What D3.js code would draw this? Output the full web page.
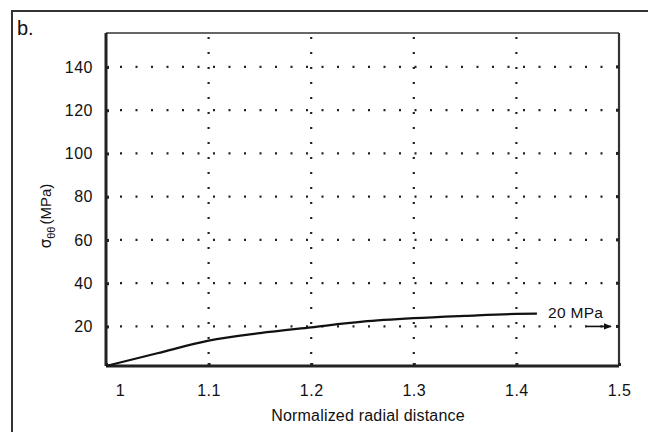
<!DOCTYPE html>
<html>
<head>
<meta charset="utf-8">
<script src="https://cdn.jsdelivr.net/npm/d3@7"></script>
<style>
  body { margin: 0; background: #fff; }
  svg { display: block; font-family: "Liberation Sans", Arial, sans-serif; }
  text { fill: #111; }
</style>
</head>
<body>
<svg id="chart"></svg>
<script>
// curve
var radialDistance = [1.0, 1.05, 1.1, 1.15, 1.2, 1.25, 1.3, 1.35, 1.4, 1.42];
var stressValues = [1.7, 7.6, 13.4, 16.9, 19.6, 22.2, 23.8, 24.9, 25.8, 25.9];
var xTicks = [1, 1.1, 1.2, 1.3, 1.4, 1.5];
var xTickLabels = ["1", "1.1", "1.2", "1.3", "1.4", "1.5"];
var yTicks = [20, 40, 60, 80, 100, 120, 140];
var arrowValue = 20;
var arrowLabel = "20 MPa";

var width = 648;
var height = 432;
// plot box edges (note: "top" is reserved on window)
var plotLeft = 106, plotRight = 619, plotTop = 33, plotBottom = 366;

var svg = d3.select("#chart").attr("width", width).attr("height", height);

var x = d3.scaleLinear().domain([1, 1.5]).range([plotLeft, plotRight]);
var y = d3.scaleLinear().domain([1.7, 155.7]).range([plotBottom, plotTop]);

// outer frame (only top and left edges visible)
svg.append("path")
    .attr("d", "M12,432V11H648")
    .attr("fill", "none")
    .attr("stroke", "#333")
    .attr("stroke-width", 2);

svg.append("text")
    .attr("x", 17)
    .attr("y", 35)
    .attr("font-size", 20)
    .text("b.");

// dotted grid
var grid = svg.append("g").attr("stroke", "#222").attr("stroke-width", 2.2);

grid.selectAll(".hgrid")
    .data(yTicks)
    .enter()
    .append("line")
    .attr("class", "hgrid")
    .attr("x1", plotLeft + 14)
    .attr("x2", plotRight)
    .attr("y1", function(d) { return y(d); })
    .attr("y2", function(d) { return y(d); })
    .attr("stroke-dasharray", "2,13.5");

grid.selectAll(".vgrid")
    .data(xTicks.slice(1, 5))
    .enter()
    .append("line")
    .attr("class", "vgrid")
    .attr("x1", function(d) { return x(d); })
    .attr("x2", function(d) { return x(d); })
    .attr("y1", plotTop + 4)
    .attr("y2", plotBottom)
    .attr("stroke-dasharray", "2,13");

// plot frame
svg.append("line").attr("x1", plotLeft).attr("x2", plotRight).attr("y1", plotTop).attr("y2", plotTop)
    .attr("stroke", "#333").attr("stroke-width", 1.6);
svg.append("line").attr("x1", plotRight).attr("x2", plotRight).attr("y1", plotTop).attr("y2", plotBottom)
    .attr("stroke", "#333").attr("stroke-width", 2.2);

var yAxis = svg.append("g")
    .attr("transform", "translate(" + plotLeft + ",0)")
    .call(d3.axisLeft(y).tickValues(yTicks).tickSize(-3).tickPadding(13));

var xAxis = svg.append("g")
    .attr("transform", "translate(0," + plotBottom + ")")
    .call(d3.axisBottom(x).tickValues(xTicks).tickSize(-3).tickPadding(19)
        .tickFormat(function(d, i) { return xTickLabels[i]; }));

[yAxis, xAxis].forEach(function(axis) {
    axis.select(".domain").attr("stroke", "#222").attr("stroke-width", 3);
    axis.selectAll(".tick line").attr("stroke", "#222").attr("stroke-width", 3);
    axis.selectAll(".tick text")
        .attr("font-size", 16)
        .attr("font-family", "Liberation Sans, Arial, sans-serif")
        .attr("letter-spacing", 0.5)
        .attr("fill", "#111");
});
yAxis.select(".domain").attr("d", "M0," + plotTop + "V" + plotBottom);
xAxis.select(".domain").attr("d", "M" + plotLeft + ",0H" + plotRight);

// the "1" label sits a little right of its tick in the original
xAxis.selectAll(".tick text").attr("dx", function(d, i) { return i === 0 ? 14 : 0; });

// right axis tick marks
svg.selectAll(".rtick")
    .data(yTicks)
    .enter()
    .append("line")
    .attr("class", "rtick")
    .attr("x1", plotRight - 3)
    .attr("x2", plotRight)
    .attr("y1", function(d) { return y(d); })
    .attr("y2", function(d) { return y(d); })
    .attr("stroke", "#222")
    .attr("stroke-width", 3);

// stress curve
var line = d3.line()
    .x(function(d, i) { return x(radialDistance[i]); })
    .y(function(d) { return y(d); })
    .curve(d3.curveMonotoneX);

svg.append("path")
    .datum(stressValues)
    .attr("d", line)
    .attr("fill", "none")
    .attr("stroke", "#111")
    .attr("stroke-width", 2.2);

// 20 MPa annotation
svg.append("defs").append("marker")
    .attr("id", "head")
    .attr("viewBox", "0 0 10 10")
    .attr("refX", 9)
    .attr("refY", 5)
    .attr("markerWidth", 5)
    .attr("markerHeight", 5)
    .attr("orient", "auto")
    .append("path")
    .attr("d", "M0,1L10,5L0,9Z")
    .attr("fill", "#111");

svg.append("line")
    .attr("x1", 587)
    .attr("x2", 611)
    .attr("y1", y(arrowValue))
    .attr("y2", y(arrowValue))
    .attr("stroke", "#111")
    .attr("stroke-width", 1.6)
    .attr("marker-end", "url(#head)");

svg.append("text")
    .attr("x", 548)
    .attr("y", 318)
    .attr("font-size", 15.5)
    .attr("letter-spacing", 0.3)
    .text(arrowLabel);

// axis titles
svg.append("text")
    .attr("x", 368)
    .attr("y", 421)
    .attr("text-anchor", "middle")
    .attr("font-size", 16)
    .attr("letter-spacing", 0.2)
    .text("Normalized radial distance");

var yTitle = svg.append("text")
    .attr("transform", "translate(51,216) rotate(-90)")
    .attr("text-anchor", "middle")
    .attr("font-size", 15);
yTitle.append("tspan").attr("font-family", "DejaVu Sans").text("\u03C3");
yTitle.append("tspan").attr("font-size", 11).attr("dy", 4).text("\u03B8\u03B8");
yTitle.append("tspan").attr("dy", -4).attr("dx", 2).text("(MPa)");
</script>
</body>
</html>
